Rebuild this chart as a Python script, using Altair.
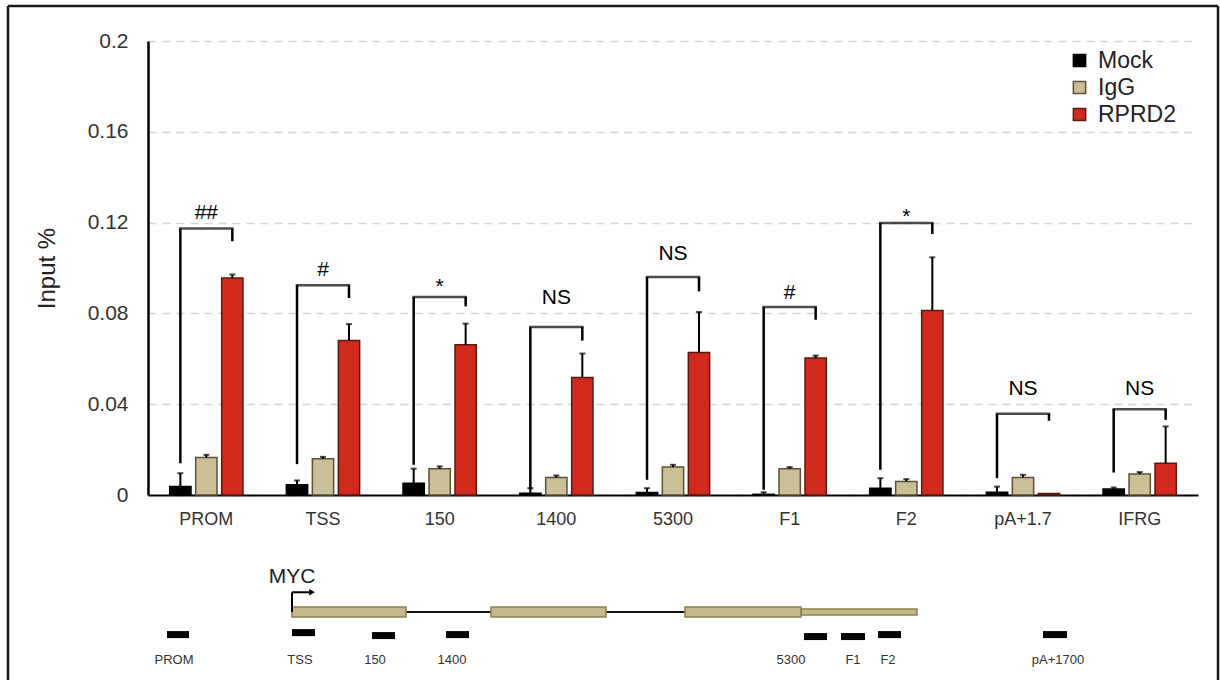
import altair as alt
import pandas as pd

F = "Liberation Sans, Arial, sans-serif"

# ---------------- bar chart data ----------------
sites = ["PROM", "TSS", "150", "1400", "5300", "F1", "F2", "pA+1.7", "IFRG"]
groups = ["Mock", "IgG", "RPRD2"]

mock = [0.0037, 0.0045, 0.0052, 0.0008, 0.0011, 0.0003, 0.0030, 0.0012, 0.0026]
mock_err = [0.0059, 0.0019, 0.0064, 0.0022, 0.0019, 0.0009, 0.0044, 0.0025, 0.0007]
igg = [0.0165, 0.0160, 0.0116, 0.0077, 0.0123, 0.0116, 0.0060, 0.0077, 0.0092]
igg_err = [0.0012, 0.0008, 0.0010, 0.0009, 0.0010, 0.0007, 0.0010, 0.0012, 0.0009]
rprd2 = [0.0956, 0.0681, 0.0662, 0.0518, 0.0628, 0.0603, 0.0813, 0.0007, 0.0140]
rprd2_err = [0.0015, 0.0072, 0.0093, 0.0105, 0.0178, 0.0011, 0.0234, 0.0, 0.0162]

# significance brackets
br_top = [0.1174, 0.0924, 0.0872, 0.0740, 0.0960, 0.0828, 0.1198, 0.0358, 0.0378]
br_left = [0.0140, 0.0136, 0.0133, 0.0023, 0.0067, 0.0023, 0.0111, 0.0074, 0.0099]
br_right = [0.1118, 0.0868, 0.0831, 0.0680, 0.0897, 0.0772, 0.1150, 0.0327, 0.0331]
sig = ["##", "#", "*", "NS", "NS", "#", "*", "NS", "NS"]
sig_y = [0.1243, 0.0989, 0.0917, 0.0869, 0.1063, 0.0888, 0.1224, 0.0465, 0.0465]

y_ticks = [0, 0.04, 0.08, 0.12, 0.16, 0.2]

fills = ["#000000", "#cbbf95", "#d12a1c"]
strokes = ["#000000", "#5b5136", "#5a1a12"]

# ---------------- gene diagram data ----------------
gene_start, gene_end = 14.4, 76.9
exon_start = [14.4, 34.3, 53.7]
exon_end = [25.8, 45.8, 65.3]
utr_start = [65.3]
utr_end = [76.9]
primer_names = ["PROM", "TSS", "150", "1400", "5300", "F1", "F2", "pA+1700"]
primer_start = [1.9, 14.4, 22.4, 29.8, 65.6, 69.3, 73.0, 89.5]
primer_end = [4.1, 16.7, 24.7, 32.1, 67.9, 71.7, 75.3, 91.9]
primer_row = [3.7, 3.9, 3.6, 3.7, 3.5, 3.5, 3.7, 3.7]
primer_label_x = [2.6, 15.2, 22.7, 30.4, 64.3, 70.5, 74.0, 91.0]

# diagram track rows
GENE_ROW = 6.0
ARROW_ROW = 8.0
NAME_ROW = 9.6
LABEL_ROW = 1.1
ARROW_END = 16.1
ARROW_HEAD = 16.4

# ---------------- tables ----------------
rows = []
for i, s in enumerate(sites):
    for g, vals, errs in zip(groups, [mock, igg, rprd2], [mock_err, igg_err, rprd2_err]):
        rows.append({"site": s, "group": g, "value": vals[i], "top": vals[i] + errs[i]})
bars_df = pd.DataFrame(rows)
err_df = bars_df[bars_df["top"] > bars_df["value"]]

leg_rows = []
for i, s in enumerate(sites):
    leg_rows.append({"site": s, "group": "Mock", "y1": br_left[i], "y2": br_top[i]})
    leg_rows.append({"site": s, "group": "RPRD2", "y1": br_right[i], "y2": br_top[i]})
legs_df = pd.DataFrame(leg_rows)
top_df = pd.DataFrame({"site": sites, "top": br_top})
sig_df = pd.DataFrame({"site": sites, "label": sig, "sy": sig_y})

# ---------------- encodings ----------------
X = alt.X("site:N", sort=sites, scale=alt.Scale(paddingInner=0, paddingOuter=0),
          axis=alt.Axis(title=None, labelAngle=0, ticks=False, domainColor="black",
                        domainWidth=2, labelFontSize=18, labelColor="#333333",
                        labelPadding=15, offset=-181, grid=False, labelFont=F))
XO = alt.XOffset("group:N", sort=groups,
                 scale=alt.Scale(domain=groups, paddingInner=0.18, paddingOuter=0.835))
YAX = alt.Axis(values=y_ticks, format=".2~f", grid=True, gridDash=[8, 6],
               gridColor="#d4d4d4", gridWidth=1.5, domainColor="black", domainWidth=2.5,
               ticks=False, labelFontSize=21, labelColor="#333333", labelPadding=20,
               labelFont=F, titleFont=F, titleFontSize=24, titleFontWeight="normal",
               titleColor="#222222", titlePadding=28)
YS = alt.Scale(domain=[0, 0.2], range=[454, 0], nice=False, zero=True)


def yenc(field):
    return alt.Y(field, scale=YS, axis=YAX, title="Input %")


leg = alt.Legend(orient="none", legendX=920, legendY=8, title=None, symbolType="square",
                 symbolSize=150, labelFontSize=23, labelFont=F, labelColor="#222222",
                 padding=0, rowPadding=3, labelOffset=7, symbolStrokeWidth=1.5)

bars = alt.Chart(bars_df).mark_bar(strokeWidth=1.5).encode(
    x=X, xOffset=XO, y=yenc("value:Q"),
    color=alt.Color("group:N", sort=groups, scale=alt.Scale(domain=groups, range=fills), legend=leg),
    stroke=alt.Stroke("group:N", sort=groups, scale=alt.Scale(domain=groups, range=strokes), legend=leg),
)
err_rule = alt.Chart(err_df).mark_rule(color="black", strokeWidth=2).encode(
    x=X, xOffset=XO, y=yenc("value:Q"), y2="top:Q")
err_cap = alt.Chart(err_df).mark_tick(color="black", size=6, thickness=2).encode(
    x=X, xOffset=XO, y=yenc("top:Q"))
br_legs = alt.Chart(legs_df).mark_rule(color="black", strokeWidth=2.5).encode(
    x=X, xOffset=XO, y=yenc("y1:Q"), y2="y2:Q")
br_bar = alt.Chart(top_df).mark_tick(color="black", size=54.5, thickness=2.5).encode(
    x=X, y=yenc("top:Q"))
sig_txt = alt.Chart(sig_df).mark_text(baseline="middle", align="center", font=F, color="black").encode(
    x=X, y=yenc("sy:Q"), text="label:N",
    size=alt.Size("label:N", scale=alt.Scale(domain=["##", "#", "*", "NS"], range=[21, 21, 24, 24]), legend=None))

top_layer = alt.layer(bars, err_rule, err_cap, br_legs, br_bar, sig_txt)

# ---------------- diagram ----------------
DXS = alt.Scale(domain=[0, 105], nice=False, zero=False)
DYS = alt.Scale(domain=[0, 63.5], nice=False, zero=False)


def dx(f):
    return alt.X(f, scale=DXS, axis=None)


def dy(f):
    return alt.Y(f, scale=DYS, axis=None)


gene_df = pd.DataFrame({"s": [gene_start], "e": [gene_end], "r": [GENE_ROW]})
exon_df = pd.DataFrame({"s": exon_start, "e": exon_end, "r": [GENE_ROW] * len(exon_start)})
utr_df = pd.DataFrame({"s": utr_start, "e": utr_end, "r": [GENE_ROW] * len(utr_start)})
primer_df = pd.DataFrame({"s": primer_start, "e": primer_end, "r": primer_row})
plab_df = pd.DataFrame({"name": primer_names, "x": primer_label_x, "r": [LABEL_ROW] * len(primer_names)})
arrow_v = pd.DataFrame({"x": [gene_start], "r1": [GENE_ROW], "r2": [ARROW_ROW]})
arrow_h = pd.DataFrame({"x1": [gene_start], "x2": [ARROW_END], "r": [ARROW_ROW]})
arrow_p = pd.DataFrame({"x": [ARROW_HEAD], "r": [ARROW_ROW]})
myc_df = pd.DataFrame({"x": [gene_start], "r": [NAME_ROW], "t": ["MYC"]})

d_gene = alt.Chart(gene_df).mark_rule(color="#111111", strokeWidth=2).encode(
    x=dx("s:Q"), x2="e:Q", y=dy("r:Q"))
d_utr = alt.Chart(utr_df).mark_bar(size=6, fill="#c4b98a", stroke="#8b8050", strokeWidth=1.5).encode(
    x=dx("s:Q"), x2="e:Q", y=dy("r:Q"))
d_exon = alt.Chart(exon_df).mark_bar(size=10, fill="#c4b98a", stroke="#8b8050", strokeWidth=1.5).encode(
    x=dx("s:Q"), x2="e:Q", y=dy("r:Q"))
d_primer = alt.Chart(primer_df).mark_bar(size=7, color="black").encode(
    x=dx("s:Q"), x2="e:Q", y=dy("r:Q"))
d_plab = alt.Chart(plab_df).mark_text(font=F, fontSize=13, color="#333333", baseline="middle").encode(
    x=dx("x:Q"), y=dy("r:Q"), text="name:N")
d_av = alt.Chart(arrow_v).mark_rule(color="black", strokeWidth=2).encode(
    x=dx("x:Q"), y=dy("r1:Q"), y2="r2:Q")
d_ah = alt.Chart(arrow_h).mark_rule(color="black", strokeWidth=2).encode(
    x=dx("x1:Q"), x2="x2:Q", y=dy("r:Q"))
d_ap = alt.Chart(arrow_p).mark_point(shape="triangle-right", filled=True, size=45, color="black", opacity=1).encode(
    x=dx("x:Q"), y=dy("r:Q"))
d_myc = alt.Chart(myc_df).mark_text(font=F, fontSize=21, color="#222222", baseline="middle").encode(
    x=dx("x:Q"), y=dy("r:Q"), text="t:N")

diagram = alt.layer(d_gene, d_utr, d_exon, d_primer, d_plab, d_av, d_ah, d_ap, d_myc)

# ---------------- frame ----------------
one = pd.DataFrame({"k": [0]})
f_left = alt.Chart(one).mark_rule(color="#1a1a1a", strokeWidth=2.5).encode(
    x=alt.value(-140), y=alt.value(-35), y2=alt.value(639))
f_top = alt.Chart(one).mark_rule(color="#1a1a1a", strokeWidth=2.5).encode(
    x=alt.value(-140), x2=alt.value(1070), y=alt.value(-35))
f_right = alt.Chart(one).mark_rule(color="#1a1a1a", strokeWidth=2.5).encode(
    x=alt.value(1070), y=alt.value(-35), y2=alt.value(639))

chart = alt.layer(top_layer, diagram, f_left, f_top, f_right).resolve_scale(
    x="independent", y="independent"
).properties(
    width=1050, height=635,
    padding={"left": 6, "top": 4, "right": 0, "bottom": 0},
    background="white",
).configure_view(stroke=None)

chart.save("out.html", embed_options={"renderer": "svg", "actions": False})
